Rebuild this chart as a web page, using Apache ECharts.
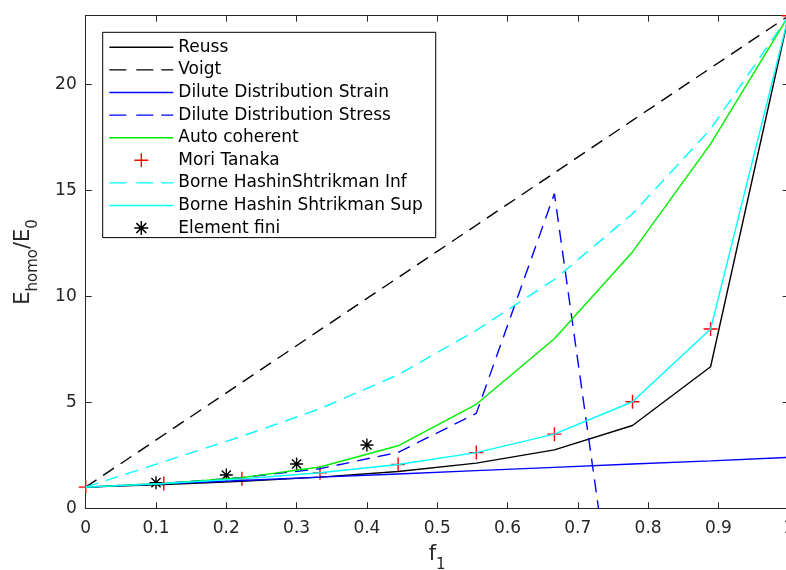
<!DOCTYPE html>
<html>
<head>
<meta charset="utf-8">
<script src="https://cdn.jsdelivr.net/npm/echarts@6/dist/echarts.min.js"></script>
<style>
  html, body { margin: 0; padding: 0; background: #fff; }
  #chart { width: 786px; height: 570px; }
</style>
</head>
<body>
<div id="chart"></div>
<script>
// Volume fraction of the stiff phase (x axis)
const fVals = [0, 0.1111, 0.2222, 0.3333, 0.4444, 0.5556, 0.6667, 0.7778, 0.8889, 1];

// Normalised homogenised modulus E_homo / E_0 for each model
const reuss        = [1, 1.12, 1.27, 1.47, 1.74, 2.13, 2.76, 3.91, 6.68, 23.25];
const voigt        = [1, 3.47, 5.94, 8.42, 10.89, 13.36, 15.83, 18.31, 20.78, 23.25];
const diluteStrain = [1, 1.16, 1.31, 1.47, 1.62, 1.78, 1.93, 2.09, 2.24, 2.40];
const diluteStress = [1, 1.18, 1.45, 1.87, 2.64, 4.48, 14.85, -11.45, -4.12, -2.51];
const autoCoherent = [1, 1.17, 1.45, 1.95, 2.95, 4.91, 8.0, 12.1, 17.2, 23.25];
const moriTanaka   = [1, 1.17, 1.39, 1.68, 2.07, 2.63, 3.50, 5.03, 8.46, 23.25];
const hsInf        = [1, 2.2, 3.4, 4.7, 6.3, 8.4, 10.8, 13.9, 17.9, 23.25];
const hsSup        = [1, 1.17, 1.39, 1.68, 2.07, 2.63, 3.50, 5.03, 8.46, 23.25];

// Finite element results
const feF = [0.1, 0.2, 0.3, 0.4];
const feE = [1.21, 1.57, 2.09, 2.99];

// Axis ticks
const xTicks = [0, 0.1, 0.2, 0.3, 0.4, 0.5, 0.6, 0.7, 0.8, 0.9, 1];
const yTicks = [0, 5, 10, 15, 20];
const yMax = 23.25;

const names = [
  'Reuss', 'Voigt', 'Dilute Distribution Strain', 'Dilute Distribution Stress',
  'Auto coherent', 'Mori Tanaka', 'Borne HashinShtrikman Inf',
  'Borne Hashin Shtrikman Sup', 'Element fini'
];

const FONT = 'DejaVu Sans';
const AXIS = '#262626';
const LW = 1.4;

const pairs = (xs, ys) => xs.map((x, i) => [x, ys[i]]);

// Legend / marker glyphs
const ICON_SOLID = 'path://M0,0 H64 V1.4 H0 Z';
const ICON_DASH = 'path://M0,0 H17 V1.4 H0 Z M27,0 H44 V1.4 H27 Z M52,0 H64 V1.4 H52 Z';
const PLUS = 'path://M6.3,0 H7.7 V14 H6.3 Z M0,6.3 H14 V7.7 H0 Z';
const STAR = 'path://M0,5.8 H13 V7.2 H0 Z M5.8,0 H7.2 V13 H5.8 Z ' +
             'M1.4,2.4 L2.4,1.4 L11.6,10.6 L10.6,11.6 Z M10.6,1.4 L11.6,2.4 L2.4,11.6 L1.4,10.6 Z';

const DASH = [13, 8];

function lineSeries(name, ys, color, dashed) {
  return {
    name: name,
    type: 'line',
    data: pairs(fVals, ys),
    symbol: 'none',
    showSymbol: false,
    clip: true,
    animation: false,
    color: color,
    lineStyle: { color: color, width: LW, type: dashed ? DASH : 'solid' },
    emphasis: { disabled: true }
  };
}

function markerSeries(name, xs, ys, color, symbol, size) {
  return {
    name: name,
    type: 'scatter',
    data: pairs(xs, ys),
    symbol: symbol,
    symbolSize: size,
    animation: false,
    color: color,
    itemStyle: { color: color, opacity: 1, borderWidth: 0 },
    emphasis: { disabled: true }
  };
}

const richName = {
  m: { fontFamily: FONT, fontSize: 21, lineHeight: 24, verticalAlign: 'top', color: AXIS },
  s: { fontFamily: FONT, fontSize: 15, lineHeight: 15, verticalAlign: 'top', padding: [13, 0, 0, 0], color: AXIS }
};

const option = {
  backgroundColor: '#fff',
  animation: false,
  grid: {
    left: 85.7, top: 15.7, width: 703, height: 492.6,
    containLabel: false, outerBoundsMode: 'none'
  },
  legend: {
    orient: 'vertical',
    left: 102.7, top: 32.3,
    padding: [6.5, 13, 1, 6.6],
    itemWidth: 64, itemHeight: 14, itemGap: 5.6,
    backgroundColor: '#fff',
    borderColor: '#000', borderWidth: 1,
    selectedMode: false,
    itemStyle: { borderWidth: 0 },
    textStyle: { fontFamily: FONT, fontSize: 17, lineHeight: 17, color: '#000' },
    data: [
      { name: names[0], icon: ICON_SOLID },
      { name: names[1], icon: ICON_DASH },
      { name: names[2], icon: ICON_SOLID },
      { name: names[3], icon: ICON_DASH },
      { name: names[4], icon: ICON_SOLID },
      { name: names[5], icon: PLUS },
      { name: names[6], icon: ICON_DASH },
      { name: names[7], icon: ICON_SOLID },
      { name: names[8], icon: STAR }
    ]
  },
  xAxis: [
    {
      type: 'value', position: 'bottom',
      min: xTicks[0], max: xTicks[xTicks.length - 1], interval: 0.1,
      name: '{m|f}{s|1}',
      nameLocation: 'middle', nameGap: 36, nameMoveOverlap: false,
      nameTextStyle: { fontFamily: FONT, color: AXIS, rich: richName },
      axisLine: { show: true, onZero: false, lineStyle: { color: AXIS, width: 1 } },
      axisTick: { show: true, inside: true, length: 6, lineStyle: { color: AXIS } },
      axisLabel: {
        margin: 12, fontFamily: FONT, fontSize: 17, color: AXIS,
        formatter: (v) => {
          const r = Math.round(v * 10) / 10;
          return xTicks.indexOf(r) >= 0 ? String(r) : '';
        }
      },
      splitLine: { show: false }
    },
    {
      type: 'value', position: 'top',
      min: xTicks[0], max: xTicks[xTicks.length - 1], interval: 0.1,
      axisLine: { show: true, onZero: false, lineStyle: { color: AXIS, width: 1 } },
      axisTick: { show: true, inside: true, length: 6, lineStyle: { color: AXIS } },
      axisLabel: { show: false },
      splitLine: { show: false }
    }
  ],
  yAxis: [
    {
      type: 'value', position: 'left',
      min: 0, max: yMax, interval: 5,
      name: '{m|E}{s|homo}{m|/E}{s|0}',
      nameLocation: 'middle', nameGap: 49, nameRotate: 90, nameMoveOverlap: false,
      nameTextStyle: { fontFamily: FONT, color: AXIS, rich: richName },
      axisLine: { show: true, onZero: false, lineStyle: { color: AXIS, width: 1 } },
      axisTick: { show: true, inside: true, length: 6, lineStyle: { color: AXIS } },
      axisLabel: {
        margin: 9, fontFamily: FONT, fontSize: 17, color: AXIS,
        formatter: (v) => (yTicks.indexOf(v) >= 0 ? String(v) : '')
      },
      splitLine: { show: false }
    },
    {
      type: 'value', position: 'right',
      min: 0, max: yMax, interval: 5,
      axisLine: { show: true, onZero: false, lineStyle: { color: AXIS, width: 1 } },
      axisTick: { show: true, inside: true, length: 6, lineStyle: { color: AXIS } },
      axisLabel: { show: false },
      splitLine: { show: false }
    }
  ],
  series: [
    lineSeries(names[0], reuss, '#000000', false),
    lineSeries(names[1], voigt, '#000000', true),
    lineSeries(names[2], diluteStrain, '#0000ff', false),
    lineSeries(names[3], diluteStress, '#0000ff', true),
    lineSeries(names[4], autoCoherent, '#00ee00', false),
    markerSeries(names[5], fVals, moriTanaka, '#ff0000', PLUS, 14),
    lineSeries(names[6], hsInf, '#00ffff', true),
    lineSeries(names[7], hsSup, '#00ffff', false),
    markerSeries(names[8], feF, feE, '#000000', STAR, 13)
  ]
};

const chart = echarts.init(document.getElementById('chart'), null, { renderer: 'canvas' });
chart.setOption(option);
</script>
</body>
</html>
